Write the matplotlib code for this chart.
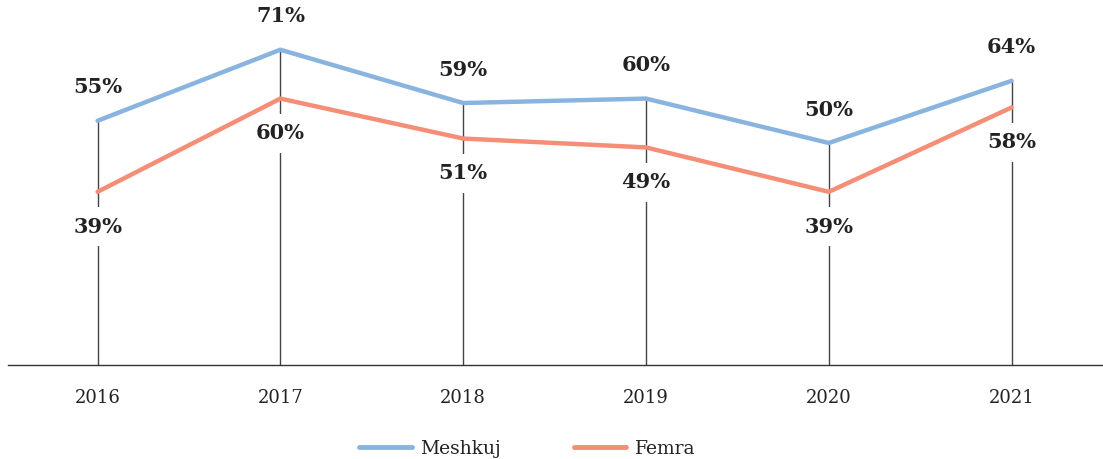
import matplotlib.pyplot as plt
from matplotlib.lines import Line2D

years = ["2016", "2017", "2018", "2019", "2020", "2021"]
meshkuj = [55, 71, 59, 60, 50, 64]
femra = [39, 60, 51, 49, 39, 58]

BLUE = "#8ab4e0"
SALMON = "#f58e76"
INK = "#222222"

plt.rcParams["font.family"] = ["DejaVu Serif"]

fig = plt.figure(figsize=(11.03, 4.59), dpi=100)
ax = fig.add_axes([8 / 1103, 94 / 459, 1 - 8 / 1103, 365 / 459])

x = list(range(len(years)))

# stems from the baseline up to the upper series
ax.vlines(x, 0, meshkuj, color="#444444", lw=1.0, zorder=1)

ax.plot(x, meshkuj, color=BLUE, lw=3.2, solid_capstyle="round", zorder=3)
ax.plot(x, femra, color=SALMON, lw=3.2, solid_capstyle="round", zorder=3)

for xi, m, f in zip(x, meshkuj, femra):
    ax.annotate(f"{m}%", (xi, m), xytext=(0, 24), textcoords="offset points",
                ha="center", va="center", fontsize=15, fontweight="bold",
                color=INK, zorder=4)
    ax.annotate(f"{f}%", (xi, f), xytext=(0, -25), textcoords="offset points",
                ha="center", va="center", fontsize=15, fontweight="bold",
                color=INK, zorder=2,
                bbox=dict(boxstyle="square,pad=0.45", fc="white", ec="none"))

ax.set_xlim(-0.49, 5.5)
ax.set_ylim(0, 82.2)
ax.set_xticks(x)
ax.set_xticklabels(years, fontsize=13, color=INK)
ax.tick_params(axis="x", length=0, pad=17)
ax.set_yticks([])
for side in ("top", "right", "left"):
    ax.spines[side].set_visible(False)
ax.spines["bottom"].set_color("#333333")
ax.spines["bottom"].set_linewidth(1.0)

handles = [Line2D([], [], color=BLUE, lw=3.5, solid_capstyle="round"),
           Line2D([], [], color=SALMON, lw=3.5, solid_capstyle="round")]
fig.legend(handles, ["Meshkuj", "Femra"], loc="center", ncol=2,
           bbox_to_anchor=(0.478, 10 / 459), frameon=False, fontsize=13.5,
           handlelength=2.8, handletextpad=0.45, columnspacing=3.9,
           labelcolor=INK)

fig.savefig("out.png", dpi=100)
